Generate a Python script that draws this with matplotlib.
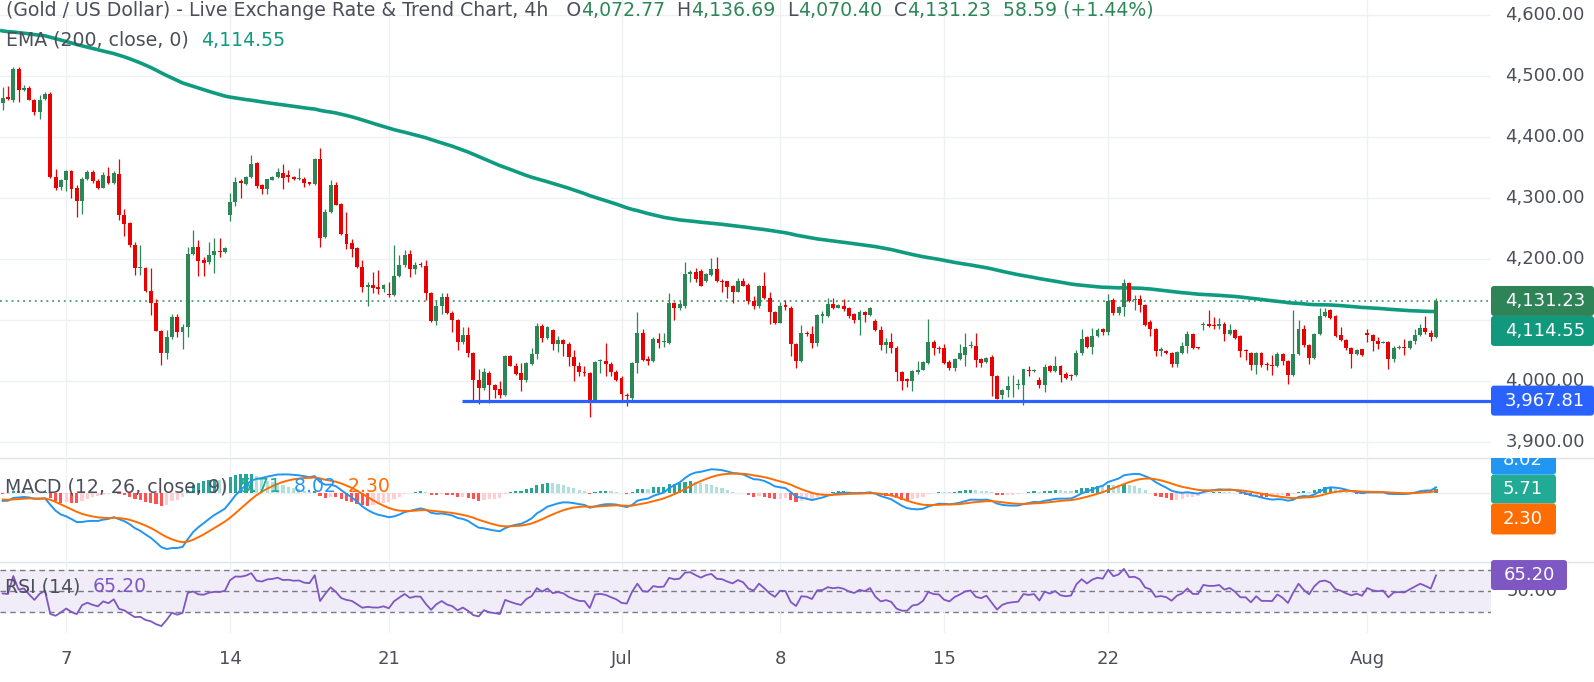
import numpy as np
import matplotlib
matplotlib.use("Agg")
import matplotlib.pyplot as plt
from matplotlib.patches import FancyBboxPatch
from matplotlib.lines import Line2D
from matplotlib.text import Annotation
from matplotlib.transforms import IdentityTransform, blended_transform_factory, Bbox

plt.rcParams['font.family'] = ['DejaVu Sans']

# ---------------- data (4h candles) ----------------
opens = [
    4456, 4465.6, 4460, 4512, 4477, 4481, 4461, 4441, 4461.8, 4471,
    4334.5, 4318.1, 4330.1, 4344, 4316, 4294.6, 4331.7, 4342.7, 4327.4, 4316.4,
    4336.1, 4324.6, 4339.9, 4271.6, 4259.6, 4222.5, 4185.3, 4185.3, 4147, 4128.5,
    4082, 4046.5, 4072.2, 4105, 4080.4, 4088.6, 4208.8, 4219.7, 4198, 4195.2,
    4206, 4212.6, 4211.5, 4272.7, 4293.5, 4327.4, 4323.5, 4334.5, 4357.4, 4320.8,
    4315.4, 4330.1, 4334.5, 4341, 4337.2, 4334.5, 4331.7, 4331.7, 4326.3, 4322.5,
    4364.5, 4235.6, 4277.1, 4320.8, 4289.7, 4241.6, 4226.3, 4218, 4187, 4153.6,
    4158, 4153.6, 4151.4, 4143.2, 4140.5, 4172.2, 4189.7, 4207.7, 4184.2, 4192.4,
    4188.6, 4144.9, 4097.9, 4123, 4137.8, 4112.1, 4099.5, 4064, 4076, 4046.5,
    4002.3, 3988.6, 4013, 3994, 3986.8, 3977.5, 4040.7, 4025.3, 4013.2, 4002.2,
    4028.6, 4044.5, 4090.1, 4069.8, 4083.5, 4061, 4067, 4061, 4039, 4025.3,
    4014.3, 4013.2, 3966.5, 4032.5, 4032.5, 4028, 4014.3, 4005, 3977.5, 3972,
    4029.7, 4079.1, 4036.3, 4032.5, 4068.1, 4063.7, 4062.7, 4127.5, 4120.3, 4123.1,
    4175.3, 4179.1, 4180.8, 4163.2, 4173.6, 4183.5, 4164.3, 4164.3, 4155, 4146.2,
    4163.2, 4157.2, 4131.3, 4123.1, 4156, 4136.8, 4113.2, 4095.6, 4124.2, 4120.3,
    4061, 4032.5, 4079.1, 4077.5, 4061.6, 4106.6, 4106.6, 4125.8, 4120.3, 4123.1,
    4120.3, 4109.4, 4100, 4113.2, 4107.7, 4098.4, 4083.5, 4058.8, 4063.7, 4054.4,
    4014.3, 4003.3, 3999.5, 4014.3, 4018.7, 4029.7, 4063.7, 4054.4, 4054.4, 4030.8,
    4021.4, 4036.3, 4043.4, 4057, 4057.2, 4036.7, 4031.2, 4039.4, 4008.2, 3977.5,
    3984.6, 3992.8, 3992.8, 3992.8, 4017.5, 4017, 4002.2, 3994, 4024.6, 4015.9,
    4024.6, 4012, 4009.3, 4009.3, 4046.5, 4072.3, 4055.9, 4074, 4084.9, 4080.5,
    4132.6, 4110.7, 4121.6, 4160, 4132, 4133.7, 4124.4, 4095.9, 4086, 4049.3,
    4049.8, 4046.5, 4028.5, 4046.5, 4057, 4077.8, 4055.3, 4091.5, 4094.2, 4092.6,
    4090.4, 4094.2, 4077.8, 4083.3, 4074, 4050.4, 4046.5, 4026.8, 4046.5, 4026.8,
    4026.8, 4024.6, 4044.9, 4032.8, 4009.3, 4044.9, 4084.9, 4059.7, 4037.8, 4077.8,
    4106.8, 4116.1, 4106.8, 4076.1, 4067.9, 4054.2, 4044.9, 4052, 4079.4, 4076.1,
    4065.2, 4062.5, 4064.1, 4035.6, 4054.2, 4055.9, 4054.2, 4065.2, 4076.1, 4087.1,
    4079.4, 4072.77]
highs = [
    4482, 4483.6, 4515, 4515, 4485.8, 4483, 4462, 4468.3, 4473.8, 4473,
    4348.1, 4331.7, 4345.4, 4345.4, 4320.8, 4334.5, 4345.4, 4345.4, 4331.7, 4342.7,
    4350.9, 4343.8, 4363.4, 4281.5, 4260, 4227.9, 4222.5, 4187, 4185, 4135,
    4083, 4083, 4110.4, 4110.4, 4094, 4219.7, 4247, 4230.7, 4203.3, 4227.9,
    4234.5, 4234.5, 4220, 4308.8, 4334.5, 4331.7, 4336, 4370, 4359, 4323.5,
    4331.7, 4336, 4349.2, 4355.2, 4345.4, 4336, 4349.8, 4334.5, 4327, 4365.6,
    4382.6, 4282.6, 4330.1, 4326.3, 4292.4, 4277.1, 4233.4, 4219, 4197.9, 4162.4,
    4178.7, 4181.5, 4159.6, 4162.4, 4222.5, 4206, 4214.3, 4214.3, 4195.2, 4195,
    4197.9, 4146, 4132.3, 4144.3, 4144.3, 4114, 4102, 4088.6, 4088.6, 4047.6,
    4020.3, 4021.4, 4016, 3995.6, 3999.5, 4042, 4043.4, 4029.7, 4029.7, 4030.8,
    4054.4, 4094.5, 4092.9, 4090.1, 4085.7, 4073.6, 4068.1, 4063.7, 4051.6, 4030.8,
    4024.2, 4014, 4032, 4036.3, 4062.7, 4030.8, 4017.6, 4007.7, 3980.2, 4030.8,
    4113.2, 4085.7, 4040.7, 4072.5, 4079.1, 4079.1, 4144, 4129.7, 4131.3, 4194.5,
    4182.4, 4184.6, 4183.5, 4176.4, 4201.1, 4202.8, 4167, 4164.5, 4157.2, 4168.1,
    4168.1, 4160.5, 4139.6, 4157.2, 4179.1, 4145.1, 4114.9, 4129.7, 4133, 4123.1,
    4062.7, 4091.2, 4081.9, 4090.1, 4109.4, 4114.9, 4136.8, 4136.8, 4126, 4134.1,
    4121.4, 4112.1, 4116.5, 4114.9, 4122, 4102.2, 4090.1, 4070.9, 4079.1, 4057.2,
    4016, 4005, 4018.7, 4032.5, 4032.5, 4102.2, 4067, 4057.2, 4059.9, 4035.2,
    4037.9, 4059.9, 4079.1, 4065.4, 4079.1, 4037.8, 4039.4, 4042.2, 4009.3, 3987.4,
    4008.2, 4009.3, 4003.8, 4020.2, 4024.6, 4020.2, 4006.5, 4028.5, 4026.8, 4041.1,
    4025.7, 4014.8, 4012, 4050.4, 4086, 4074, 4087.1, 4087.1, 4087.1, 4141.9,
    4135.3, 4123.3, 4166.6, 4161.6, 4140.8, 4140.8, 4125.5, 4099.7, 4086.5, 4055.9,
    4050.9, 4047.6, 4048.7, 4064.1, 4082.7, 4078.3, 4056, 4097, 4116.1, 4105.2,
    4103.5, 4097, 4094.2, 4084.9, 4075, 4052, 4047.6, 4047.6, 4047.6, 4031.2,
    4042.2, 4047.6, 4046.5, 4034, 4117.2, 4099.7, 4092.6, 4061.4, 4079.4, 4120,
    4118.9, 4117.8, 4107.9, 4088.7, 4068.5, 4055.9, 4053.1, 4053.1, 4084.9, 4077.8,
    4072.3, 4065, 4065.2, 4057.5, 4058.6, 4069.6, 4066.8, 4086, 4094.2, 4106.8,
    4083.3, 4136.69]
lows = [
    4444, 4460.1, 4457, 4457, 4474.9, 4460, 4435.6, 4430.1, 4460, 4333,
    4313.7, 4312.6, 4311, 4300.6, 4268.9, 4274.4, 4329, 4325.2, 4314.3, 4316,
    4323.5, 4323, 4263.4, 4237.8, 4220, 4173.3, 4173, 4146, 4107.7, 4081.5,
    4025.8, 4036.7, 4069.5, 4072, 4053, 4072, 4206, 4172.2, 4172, 4192,
    4177.7, 4203.3, 4210, 4261.8, 4286.9, 4300.6, 4322, 4333, 4316.4, 4307,
    4307, 4329, 4332.8, 4314.3, 4326.3, 4330, 4330.1, 4318.1, 4322, 4320.8,
    4219.7, 4234.5, 4276, 4288, 4240, 4217, 4203.3, 4185, 4146, 4123,
    4145, 4143, 4146, 4137.8, 4139.4, 4170.5, 4187, 4170.5, 4176, 4187,
    4132.3, 4096.8, 4092.4, 4110.4, 4110.4, 4080.4, 4050.4, 4061.3, 4039.4, 3968.4,
    3962.9, 3984.8, 3963.7, 3972, 3972, 3976, 4024.2, 4010.4, 3983, 3997.8,
    4027, 4036.3, 4063.7, 4069.2, 4051.6, 4047.3, 4040.7, 4024.2, 3999.5, 4008.8,
    4008.8, 3940.7, 3966, 4013.2, 4008.8, 4008.8, 3999.5, 3966.5, 3958.2, 3968.1,
    4013.2, 4032.5, 4027, 4030.8, 4054.4, 4056, 4061, 4099.5, 4116, 4120.3,
    4161.6, 4161.6, 4155, 4163, 4172.5, 4161.6, 4145.1, 4136.8, 4128.6, 4145.1,
    4155, 4125.8, 4117.6, 4120.3, 4135, 4092.9, 4092.9, 4095, 4116.5, 4040.7,
    4021.4, 4031, 4073.6, 4054.4, 4057.2, 4094.5, 4105.5, 4118.7, 4119, 4114.9,
    4103.8, 4094.5, 4074.7, 4096.7, 4106.6, 4081.9, 4051.6, 4045.1, 4045.1, 3999.5,
    3985.7, 3990, 3983, 4012.1, 4017.6, 4028.6, 4043.4, 4046.2, 4028.6, 4017.6,
    4016, 4035.2, 4025.3, 4054.4, 4023.1, 4023, 4030.1, 3974.8, 3969.8, 3970.9,
    3973.7, 3973.7, 3987.4, 3960, 4008.2, 4015, 3988.5, 3981.9, 4014.8, 4014.8,
    3998.3, 4003.8, 4001.1, 4008.2, 4043.3, 4054.2, 4045, 4072.3, 4076.1, 4076.1,
    4109, 4109, 4106.8, 4129.8, 4116.1, 4113.4, 4090.4, 4074, 4041.1, 4041.1,
    4044.9, 4023, 4023, 4044.9, 4046.5, 4053.1, 4053, 4083.3, 4088.7, 4086,
    4086, 4065.2, 4076.1, 4069.6, 4039.4, 4034, 4017.5, 4012, 4023, 4017.5,
    4009.3, 4023, 4025.7, 3995.6, 4008.2, 4043.3, 4055.9, 4028.5, 4036.7, 4076.1,
    4105.2, 4102.4, 4072.3, 4065.2, 4050.4, 4021.3, 4043.3, 4041.1, 4064.1, 4048.7,
    4053.1, 4062, 4019.1, 4031.2, 4052, 4042.2, 4052, 4061.4, 4074, 4077.8,
    4065.2, 4070.40]
closes = [
    4464, 4462.9, 4512, 4476.5, 4480.4, 4461.2, 4441, 4460, 4470, 4334.5,
    4316.4, 4329, 4344.3, 4315.4, 4294.6, 4331.7, 4342.7, 4327.4, 4316.4, 4337.2,
    4325.2, 4341.6, 4271.6, 4258, 4222.5, 4185.3, 4187, 4147, 4128.5, 4082,
    4046.5, 4072.2, 4105, 4080.4, 4088.6, 4208.8, 4219.7, 4196.8, 4193.5, 4207.2,
    4212.6, 4211.5, 4218.6, 4293.5, 4326.3, 4325.2, 4334.5, 4356.3, 4319.7, 4315.4,
    4330.6, 4334.5, 4342.7, 4332.8, 4335, 4331.2, 4332.8, 4325.2, 4323.5, 4364.5,
    4234.5, 4277.1, 4320.8, 4289.1, 4241.6, 4225.2, 4217, 4187, 4153.6, 4158,
    4152.5, 4151.4, 4156.9, 4141.6, 4172.2, 4189.7, 4207.2, 4184.2, 4190.8, 4189.7,
    4144.9, 4097.9, 4123, 4137.8, 4112.1, 4099.5, 4064, 4076, 4046.5, 4002.3,
    3988.6, 4014.8, 3994, 3985.7, 3977.5, 4040.7, 4025.3, 4012.1, 4002.2, 4029.7,
    4044.5, 4090.1, 4069.8, 4088.5, 4061, 4067, 4059.9, 4039, 4025.3, 4014.3,
    4013.2, 3966.5, 4030.8, 4034.1, 4028, 4014.3, 4002.2, 3979.1, 3974.7, 4029.7,
    4079.1, 4035.2, 4032.5, 4068.1, 4062.7, 4065.4, 4127.5, 4120.3, 4125.8, 4175.3,
    4179.1, 4167, 4156, 4175.3, 4183.5, 4164.3, 4162.6, 4153.3, 4146.2, 4164.3,
    4156, 4131.3, 4123.1, 4156, 4136.8, 4113.2, 4095.6, 4123.1, 4121.4, 4061,
    4032.5, 4079.1, 4076.4, 4061.6, 4107.7, 4109.4, 4125.8, 4120.3, 4124.2, 4118.7,
    4106.6, 4100, 4113.2, 4107.7, 4120.3, 4083.5, 4058.8, 4063.7, 4054.4, 4014.3,
    3999.5, 3999.5, 4016, 4018.7, 4030.8, 4063.7, 4054.4, 4052.8, 4029.7, 4021.4,
    4036.3, 4045.1, 4056, 4058.8, 4035.2, 4030.1, 4037.8, 4008.2, 3970.9, 3985.7,
    3991.7, 3993.9, 3995.6, 4019.1, 4015.9, 4018.6, 3994, 4023, 4015.9, 4024.6,
    4009.3, 4005.4, 4007.6, 4046.5, 4069.6, 4055.9, 4074, 4083.3, 4080.5, 4131,
    4110.7, 4121.6, 4160, 4131, 4133.7, 4124.4, 4092.6, 4084.9, 4048.7, 4052,
    4046.5, 4028.5, 4047.6, 4057, 4077.8, 4054.2, 4053.7, 4094.2, 4090.4, 4090.4,
    4094.2, 4077.8, 4084.4, 4070.7, 4048.7, 4048.7, 4026.8, 4046.5, 4025.7, 4025.7,
    4024.6, 4044.9, 4032.3, 4009.3, 4044.9, 4084.9, 4058.6, 4037.8, 4077.8, 4106.8,
    4112.3, 4103.5, 4074, 4066.8, 4054.2, 4044.9, 4051.5, 4042.2, 4075, 4065.2,
    4061.4, 4064.1, 4035.6, 4054.2, 4055.9, 4054.2, 4065.2, 4076.1, 4087.1, 4080.5,
    4072.3, 4131.23]

# EMA(200) value at the chart's left edge; the line is then
# continued bar by bar from the closes, as the indicator is defined
ema_start = 4574.9

price_ticks = [3900, 4000, 4100, 4200, 4300, 4400, 4500, 4600]
date_tick_bars = [12, 43, 73, 117, 147, 178, 209, 258]
date_tick_labels = ['7', '14', '21', 'Jul', '8', '15', '22', 'Aug']

support_level = 3967.81
support_start_bar = 87
last_o, last_h, last_l, last_c = 4072.77, 4136.69, 4070.40, 4131.23
change, change_pct = 58.59, 1.44
ema_last = 4114.55
macd_last, hist_last, signal_last = 8.02, 5.71, 2.30
rsi_last = 65.20

# ---------------- styling ----------------
W, H = 1594, 682
GREEN = '#2c8757'
RED = '#ea0000'
EMA_C = '#0f9b7f'
TXT = '#4c4f59'
GRID = '#eef0f4'
BLUE = '#2962ff'
MACD_C = '#2196f3'
SIG_C = '#ff6d00'
HIST_C = '#22ab94'
RSI_C = '#7e57c2'
FS = 13       # scale / axis labels
FS_L = 13.6   # legends

fig = plt.figure(figsize=(W / 100, H / 100), dpi=100, facecolor='white')
PLOT_R = 1491

def ax_rect(top, bot):
    return [0, 1 - bot / H, PLOT_R / W, (bot - top) / H]

ax = fig.add_axes(ax_rect(0, 457))
axm = fig.add_axes(ax_rect(458, 561), sharex=ax)
axr = fig.add_axes(ax_rect(562, 633), sharex=ax)

o = np.array(opens); h = np.array(highs); l = np.array(lows); c = np.array(closes)
n = len(c)
xi = np.arange(n)
x_left = -2.7 / 5.289
x_right = (PLOT_R - 2.7) / 5.289

for a in (ax, axm, axr):
    for s in a.spines.values():
        s.set_visible(False)
    a.set_facecolor('white')
    a.set_xticks(date_tick_bars)
    a.grid(axis='x', color=GRID, lw=1, zorder=0)
    a.tick_params(axis='both', length=0, labelleft=False, labelbottom=False,
                  labelright=False)
ax.set_xlim(x_left, x_right)


def ema_calc(vals, span, seed):
    a = 2.0 / (span + 1)
    out = np.empty(len(vals))
    e = seed
    for i, v in enumerate(vals):
        e += a * (v - e)
        out[i] = e
    return out

# ---------------- main price panel ----------------
ax.set_ylim(3875.4, 4624.6)
ax.set_yticks(price_ticks)
ax.grid(axis='y', color=GRID, lw=1, zorder=0)

ema200 = ema_calc(c, 200, ema_start)
ax.plot(np.r_[x_left, xi], np.r_[ema_start, ema200], color=EMA_C, lw=2.6, zorder=2,
        solid_capstyle='butt')

up = c >= o
cols = np.where(up, GREEN, RED)
ax.vlines(xi, l, h, colors=cols, lw=0.9, zorder=3)
body_bot = np.minimum(o, c)
body_h = np.maximum(np.abs(c - o), 1.4)
ax.bar(xi, body_h, bottom=body_bot, width=0.74, color=cols, lw=0, zorder=4)

ax.axhline(last_c, color=GREEN, lw=1.1, ls=(0, (1.2, 2.6)), zorder=1)
ax.hlines(support_level, support_start_bar - 0.2, x_right, color=BLUE, lw=2.3,
          zorder=5)

# ---------------- MACD panel ----------------
macd = ema_calc(c, 12, 4472.0) - ema_calc(c, 26, 4485.0)
signal = ema_calc(macd, 9, -10.0)
hist = macd - signal
hcols = []
for i, hv in enumerate(hist):
    prev = hist[i - 1] if i > 0 else hv
    if hv >= 0:
        hcols.append('#26a69a' if hv >= prev else '#b2dfdb')
    else:
        hcols.append('#ffcdd2' if hv > prev else '#ff5252')

zero_px, min_px = 492.7, 549.0
scale = (min_px - zero_px) / max(-macd.min(), 1.0)
axm.set_ylim(-(561 - zero_px) / scale, (zero_px - 458) / scale)
axm.axhline(0, color='#eceef2', lw=1, zorder=0)
axm.bar(xi, hist, width=0.6, color=hcols, lw=0, zorder=2)
axm.plot(xi, macd, color=MACD_C, lw=1.4, zorder=3)
axm.plot(xi, signal, color=SIG_C, lw=1.4, zorder=3)

# ---------------- RSI panel ----------------
ag, al = 4.0, 4.4
rsi = [100 - 100 / (1 + ag / al)]
for i in range(1, n):
    d = c[i] - c[i - 1]
    ag = (ag * 13 + max(d, 0)) / 14
    al = (al * 13 + max(-d, 0)) / 14
    rsi.append(100 - 100 / (1 + ag / al))
rsi = np.array(rsi)

axr.set_ylim(30 - (633 - 612) / 1.05, 70 + (570 - 562) / 1.05)
axr.axhspan(30, 70, color=RSI_C, alpha=0.1, lw=0, zorder=0)
for lv in (30, 50, 70):
    axr.axhline(lv, color='#787b86', lw=1, ls=(0, (4, 3)), zorder=1)
axr.plot(xi, rsi, color=RSI_C, lw=1.3, zorder=3)

axr.tick_params(axis='x', labelbottom=True, labelsize=FS, labelcolor=TXT, pad=12.5)
axr.set_xticklabels(date_tick_labels)

# ---------------- right scale & labels ----------------
IDT = IdentityTransform()

def disp_y(a, v):
    return a.transData.transform((0, v))[1]

yc_last = disp_y(ax, last_c)
hidden_band = (yc_last - 45, yc_last + 15)   # area covered by the two stacked boxes

price_tr = blended_transform_factory(IDT, ax.transData)
for p in price_ticks:
    if hidden_band[0] < disp_y(ax, p) < hidden_band[1]:
        continue   # fully covered by the price boxes in the chart
    ax.text(1545, p, f'{p:,.2f}', transform=price_tr, ha='center', va='center',
            fontsize=FS, color=TXT, clip_on=False, zorder=1)
axr.text(1532, 50, '50.00', transform=blended_transform_factory(IDT, axr.transData),
         ha='center', va='center', fontsize=FS, color=TXT, clip_on=False, zorder=1)

def label_box(yc, text, bg, x0, x1, hh, tx, clip=None):
    r = FancyBboxPatch((x0, yc - hh / 2), x1 - x0, hh,
                       boxstyle='round,pad=0,rounding_size=3', transform=IDT,
                       facecolor=bg, edgecolor='none', zorder=5)
    fig.add_artist(r)
    t = fig.text(tx, yc, text, transform=IDT, ha='center', va='center',
                 fontsize=FS, color='white', zorder=6)
    if clip is not None:
        r.set_clip_box(clip); r.set_clip_on(True)
        t.set_clip_box(clip); t.set_clip_on(True)

label_box(yc_last, f'{last_c:,.2f}', '#2e8456', 1491, 1594, 30, 1545)
label_box(yc_last - 30, f'{ema_last:,.2f}', '#11997d', 1491, 1594, 30, 1545)
label_box(disp_y(ax, support_level), f'{support_level:,.2f}', BLUE, 1491, 1594, 30, 1545)

macd_clip = Bbox.from_extents(1480, H - 561, W, H - 458)
yc_h = disp_y(axm, hist_last)
label_box(yc_h, f'{hist_last:.2f}', HIST_C, 1491, 1556, 29, 1523, macd_clip)
label_box(yc_h + 29, f'{macd_last:.2f}', MACD_C, 1491, 1556, 29, 1523, macd_clip)
label_box(yc_h - 30, f'{signal_last:.2f}', SIG_C, 1491, 1556, 31, 1523, macd_clip)
label_box(disp_y(axr, rsi_last), f'{rsi_last:.2f}', RSI_C, 1491, 1567, 30, 1529)

for yy in (457.5, 561.5):
    fig.add_artist(Line2D([0, W], [H - yy, H - yy], transform=IDT, color='#e0e3eb',
                          lw=1, zorder=4))

# ---------------- legends ----------------
def chain(pieces, x_px, y_px):
    t = fig.text(x_px, H - y_px, pieces[0][0], transform=IDT, ha='left', va='center',
                 fontsize=FS_L, color=pieces[0][1], zorder=7)
    for s, col in pieces[1:]:
        a = Annotation(s, xy=(1, 0), xycoords=t, ha='left', va='bottom',
                       fontsize=FS_L, color=col, annotation_clip=False, zorder=7)
        fig.add_artist(a)
        t = a

chain([('(Gold / US Dollar) - Live Exchange Rate & Trend Chart, 4h   O', TXT),
       (f'{last_o:,.2f}', GREEN), ('  H', TXT), (f'{last_h:,.2f}', GREEN),
       ('  L', TXT), (f'{last_l:,.2f}', GREEN), ('  C', TXT), (f'{last_c:,.2f}', GREEN),
       (f'  {change:.2f} (+{change_pct:.2f}%)', GREEN)], 6, 10)
chain([('EMA (200, close, 0)  ', TXT), (f'{ema_last:,.2f}', EMA_C)], 6, 40)
chain([('MACD (12, 26, close, 9)  ', TXT), (f'{hist_last:.2f}', HIST_C),
       (f'  {macd_last:.2f}', MACD_C), (f'  {signal_last:.2f}', SIG_C)], 5, 487)
chain([('RSI (14)  ', TXT), (f'{rsi_last:.2f}', RSI_C)], 5, 587)

fig.savefig('out.png', dpi=100, facecolor='white')
